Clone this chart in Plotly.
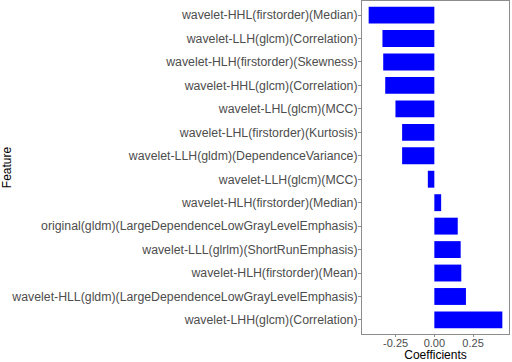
import plotly.graph_objects as go

features = [
    "wavelet-HHL(firstorder)(Median)",
    "wavelet-LLH(glcm)(Correlation)",
    "wavelet-HLH(firstorder)(Skewness)",
    "wavelet-HHL(glcm)(Correlation)",
    "wavelet-LHL(glcm)(MCC)",
    "wavelet-LHL(firstorder)(Kurtosis)",
    "wavelet-LLH(gldm)(DependenceVariance)",
    "wavelet-LLH(glcm)(MCC)",
    "wavelet-HLH(firstorder)(Median)",
    "original(gldm)(LargeDependenceLowGrayLevelEmphasis)",
    "wavelet-LLL(glrlm)(ShortRunEmphasis)",
    "wavelet-HLH(firstorder)(Mean)",
    "wavelet-HLL(gldm)(LargeDependenceLowGrayLevelEmphasis)",
    "wavelet-LHH(glcm)(Correlation)",
]
coefficients = [-0.424, -0.335, -0.330, -0.317, -0.251, -0.208, -0.208,
                -0.042, 0.044, 0.151, 0.170, 0.174, 0.204, 0.439]
tick_vals = [-0.25, 0.0, 0.25]
tick_text = ["-0.25", "0.00", "0.25"]

fig = go.Figure(go.Bar(
    x=coefficients, y=features, orientation="h",
    marker=dict(color="#0000FF", line=dict(width=0)),
    width=0.72,
))

font = "Liberation Sans, Arial, sans-serif"
fig.update_layout(
    width=512, height=362,
    margin=dict(l=362, r=3, t=1, b=28, autoexpand=False),
    paper_bgcolor="white", plot_bgcolor="white",
    font=dict(family=font, size=12, color="#4D4D4D"),
    showlegend=False,
    xaxis=dict(
        automargin=False,
        range=[-0.467, 0.482], tickvals=tick_vals, ticktext=tick_text,
        showgrid=False, zeroline=False,
        showline=True, linecolor="#8C8C8C", linewidth=1, mirror=True,
        ticks="outside", ticklen=2, tickcolor="#8C8C8C",
        ticklabelstandoff=-3,
        tickfont=dict(size=11, color="#4D4D4D"),
        title=dict(text="Coefficients", font=dict(size=12, color="black"), standoff=1),
    ),
    yaxis=dict(
        automargin=False,
        categoryorder="array", categoryarray=features[::-1],
        range=[-0.6, 13.6],
        showgrid=False, zeroline=False,
        showline=True, linecolor="#8C8C8C", linewidth=1, mirror=True,
        ticks="outside", ticklen=3, tickcolor="#8C8C8C",
        ticklabelstandoff=-2,
        tickfont=dict(size=12.3, color="#4D4D4D"),
        title=dict(text="Feature", font=dict(size=12, color="black"), standoff=6),
    ),
)

fig.write_html("out.html", config={"displayModeBar": False},
               post_script="document.body.style.margin='0';")
